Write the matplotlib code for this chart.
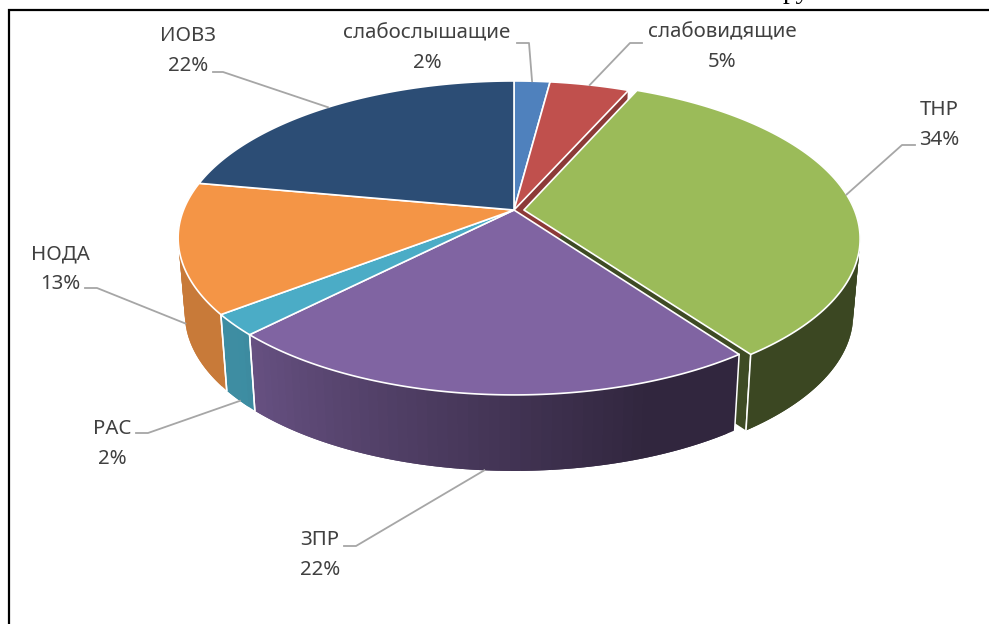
import numpy as np
import matplotlib
matplotlib.use("Agg")
import matplotlib.pyplot as plt
from matplotlib.colors import to_rgb

# slices clockwise from 12 o'clock, share in percent
categories = ["слабослышащие", "слабовидящие", "ТНР", "ЗПР", "РАС", "НОДА", "ИОВЗ"]
shares = [2.05, 4.55, 33.5, 22.2, 2.2, 13.4, 22.1]
colors = ["#4f81bd", "#c0504d", "#9bbb59", "#8064a2", "#4bacc6", "#f49546", "#2c4d75"]

# layout of the data labels, in pixels
label_x = [427, 722, 939, 320, 112, 60, 188]
label_y = [33, 32, 110, 540, 429, 254, 36]
elbow_from = [(517, 43), (642, 43), (915, 145), (344, 546), (136, 433), (85, 288), (213, 72)]
elbow_to = [(529, 43), (630, 43), (902, 145), (356, 546), (148, 433), (97, 288), (223, 72)]
leader_on_base = [False, False, False, True, True, True, False]

# pie projection
CX, CY = 514, 210
A, B, K = 330.5, 152, 0.178
DEPTH = 76
BASE_SCALE = 0.98
EXPLODED = 2
EXPLODE_X = 0.03
VISIBLE_FROM, VISIBLE_TO = np.radians(70), np.radians(290)


def project(theta, r=1.0, base=False, shift=0.0):
    x = r * np.sin(theta) + shift
    y = r * np.cos(theta)
    w = 1 + K * y
    u = A * x / w
    v = B * y / w
    if base:
        u = u * BASE_SCALE
        v = v - DEPTH
    return CX + u, CY - v


def wall_shade(theta):
    deg = np.degrees(theta)
    return np.clip(0.38 + (deg - 160) / 64 * 0.42, 0.38, 0.82)


def darker(color, f):
    return tuple(c * f for c in to_rgb(color))


def radial_wall(ax, theta, color, shift, z):
    xa, ya = project(theta, 0, False, shift)
    xb, yb = project(theta, 1, False, shift)
    xc, yc = project(theta, 1, True, shift)
    xd, yd = project(theta, 0, True, shift)
    ax.fill([xa, xb, xc, xd], [ya, yb, yc, yd], color=color, lw=0, zorder=z)
    ax.plot([xb, xc], [yb, yc], color="white", lw=1.1, zorder=z + 0.1)


def rim_wall(ax, t0, t1, color, shift, z):
    # only the front of the rim faces the viewer
    t0 = max(t0, VISIBLE_FROM)
    t1 = min(t1, VISIBLE_TO)
    if t1 <= t0:
        return
    n = max(2, int(np.degrees(t1 - t0) / 1.5))
    edges = np.linspace(t0, t1, n + 1)
    step = edges[1] - edges[0]
    for a, b in zip(edges[:-1], edges[1:]):
        # each strip runs under the next one, so no seams show
        ts = np.linspace(a, min(b + step, t1), 4)
        xt, yt = project(ts, 1, False, shift)
        xb, yb = project(ts, 1, True, shift)
        c = darker(color, wall_shade((a + b) / 2))
        ax.fill(np.r_[xt, xb[::-1]], np.r_[yt, yb[::-1]], facecolor=c, lw=0, zorder=z)
    for t in (t0, t1):
        if VISIBLE_FROM < t < VISIBLE_TO:
            xa, ya = project(t, 1, False, shift)
            xb, yb = project(t, 1, True, shift)
            ax.plot([xa, xb], [ya, yb], color="white", lw=1.1, zorder=z + 0.1)


fig = plt.figure(figsize=(9.89, 6.24), dpi=100)
ax = fig.add_axes([0, 0, 1, 1])
ax.set_xlim(0, 989)
ax.set_ylim(624, 0)
ax.axis("off")

cum = np.concatenate([[0], np.cumsum(shares)]) / np.sum(shares) * 2 * np.pi
shifts = [EXPLODE_X if i == EXPLODED else 0.0 for i in range(len(shares))]

# sides first, the exploded slice goes under its neighbours
radial_wall(ax, cum[EXPLODED + 1], darker(colors[EXPLODED], 0.4), shifts[EXPLODED], 1)
rim_wall(ax, cum[EXPLODED], cum[EXPLODED + 1], colors[EXPLODED], shifts[EXPLODED], 1.5)
radial_wall(ax, cum[EXPLODED], darker(colors[EXPLODED - 1], 0.73), 0.0, 2)
for i in range(len(shares)):
    if i != EXPLODED:
        rim_wall(ax, cum[i], cum[i + 1], colors[i], shifts[i], 3)

# top faces
for i in range(len(shares)):
    t = np.linspace(cum[i], cum[i + 1], 120)
    xs, ys = project(t, 1, False, shifts[i])
    x0, y0 = project(0, 0, False, shifts[i])
    ax.fill(np.r_[x0, xs], np.r_[y0, ys], facecolor=colors[i], edgecolor="white", lw=1.2,
            joinstyle="round", zorder=5)

# labels and leaders
for i, name in enumerate(categories):
    mid = (cum[i] + cum[i + 1]) / 2
    px, py = project(mid, 1, leader_on_base[i], shifts[i])
    ax.plot([elbow_from[i][0], elbow_to[i][0], px], [elbow_from[i][1], elbow_to[i][1], py],
            color="#a6a6a6", lw=1.3, zorder=4 if leader_on_base[i] else 6)
    ax.text(label_x[i], label_y[i], name, ha="center", va="center", fontsize=14.7,
            family="Noto Sans", color="#404040", zorder=7)
    ax.text(label_x[i], label_y[i] + 30, f"{shares[i]:.0f}%", ha="center", va="center", fontsize=14.7,
            family="Noto Sans", color="#404040", zorder=7)

# page frame and the cut-off line of text above the chart
ax.plot([8.5, 8.5, 989], [624, 10, 10], color="black", lw=1.6, solid_joinstyle="miter", zorder=8)
ax.text(783, -2, "ру", ha="left", va="baseline", fontsize=20, family="Liberation Serif",
        color="black", clip_on=False)

fig.savefig("out.png", dpi=100)
